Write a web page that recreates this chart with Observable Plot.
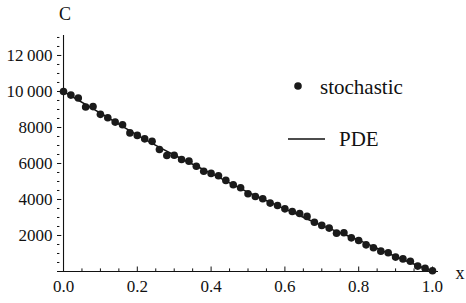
<!DOCTYPE html>
<html><head><meta charset="utf-8">
<script src="https://cdn.jsdelivr.net/npm/d3@7"></script>
<script src="https://cdn.jsdelivr.net/npm/@observablehq/plot@0.6"></script>
<style>
body{margin:0;background:#fff;}
#wrap{position:relative;width:466px;height:303px;font-family:"Liberation Serif","Times New Roman",serif;}
#wrap svg, #wrap svg text{font-family:"Liberation Serif","Times New Roman",serif !important;}
#over{position:absolute;left:0;top:0;pointer-events:none;}
</style></head><body><div id="wrap"></div>
<script>
// Stochastic samples
const xs = [0,0.02,0.04,0.06,0.08,0.10,0.12,0.14,0.16,0.18,0.20,0.22,0.24,0.26,0.28,0.30,0.32,0.34,0.36,0.38,0.40,0.42,0.44,0.46,0.48,0.50,0.52,0.54,0.56,0.58,0.60,0.62,0.64,0.66,0.68,0.70,0.72,0.74,0.76,0.78,0.80,0.82,0.84,0.86,0.88,0.90,0.92,0.94,0.96,0.98,1.00];
const stochastic = [10000,9800,9640,9140,9160,8730,8540,8300,8150,7700,7560,7370,7230,6780,6440,6460,6220,6130,5850,5570,5450,5320,5060,4815,4650,4320,4170,4040,3800,3670,3480,3330,3220,3060,2740,2560,2410,2130,2150,1870,1720,1480,1320,1130,1040,800,700,570,300,180,40];
// PDE curve
const pdeX = [0,0.1,0.2,0.3,0.4,0.5,0.6,0.7,0.8,0.9,1.0];
const pdeY = [10000,8800,7580,6470,5450,4400,3480,2560,1740,830,0];
// Ticks
const xTicks = [0,0.2,0.4,0.6,0.8,1.0];
const xTickLabels = ["0.0","0.2","0.4","0.6","0.8","1.0"];
const xMinor = [0.05,0.1,0.15,0.25,0.3,0.35,0.45,0.5,0.55,0.65,0.7,0.75,0.85,0.9,0.95];
const yTicks = [2000,4000,6000,8000,10000,12000];
const yTickLabels = ["2000","4000","6000","8000","10\u2009000","12\u2009000"];
const yMinor = [500,1000,1500,2500,3000,3500,4500,5000,5500,6500,7000,7500,8500,9000,9500,10500,11000,11500,12500,13000];
const legendLabels = ["stochastic","PDE"];
const axisLabels = {x:"x", y:"C"};

const pts = xs.map((x,i)=>({x, y: stochastic[i]}));
const pde = pdeX.map((x,i)=>({x, y: pdeY[i]}));
const xDom = [-0.0163, 1.0163];
const serif = "Liberation Serif, Times New Roman, serif";

const plot = Plot.plot({
  width:466, height:303,
  marginLeft:57, marginRight:28, marginTop:35, marginBottom:32,
  style:{fontFamily:serif, fontSize:"17px", background:"white", color:"#111"},
  x:{domain:xDom},
  y:{domain:[0,13110]},
  marks:[
    Plot.ruleY([0],{x1:xDom[0], x2:xDom[1], stroke:"#111", strokeWidth:1.1}),
    Plot.ruleX([0],{stroke:"#111", strokeWidth:1.1}),
    Plot.axisX({ticks:xTicks, tickSize:-4.5, text:null, label:null, stroke:"#111"}),
    Plot.axisX({ticks:xMinor, tickSize:-2.6, text:null, label:null, stroke:"#111"}),
    Plot.axisX({ticks:xTicks, tickSize:0, tickPadding:8, tickFormat:(d)=>xTickLabels[xTicks.indexOf(d)], label:null, fill:"#111", fontFamily:serif, fontSize:17}),
    Plot.axisY({ticks:yTicks, tickSize:-4.3, text:null, label:null, anchor:"left", stroke:"#111"}),
    Plot.axisY({ticks:yMinor, tickSize:-2.4, text:null, label:null, anchor:"left", stroke:"#111"}),
    Plot.axisY({ticks:yTicks, tickSize:0, tickPadding:5, tickFormat:d=>yTickLabels[yTicks.indexOf(d)], label:null, anchor:"left", fill:"#111", fontFamily:serif, fontSize:17}),
    Plot.line(pde,{x:"x", y:"y", stroke:"#111", strokeWidth:1.5, curve:"monotone-x"}),
    Plot.dot(pts,{x:"x", y:"y", r:3.8, fill:"#1a1a1a", stroke:"none"})
  ]
});
const wrap = document.getElementById("wrap");
wrap.appendChild(plot);

// overlay: axis labels and legend
const ns = "http://www.w3.org/2000/svg";
const svg = document.createElementNS(ns,"svg");
svg.setAttribute("id","over"); svg.setAttribute("width",466); svg.setAttribute("height",303);
svg.setAttribute("font-family",serif);
function txt(s,x,y,size,anchor){
  const t=document.createElementNS(ns,"text");
  t.setAttribute("x",x); t.setAttribute("y",y); t.setAttribute("font-size",size);
  t.setAttribute("text-anchor",anchor); t.setAttribute("dominant-baseline","central");
  t.setAttribute("fill","#111"); t.textContent=s; svg.appendChild(t);
}
txt(axisLabels.y, 65, 14, 18, "middle");
txt(axisLabels.x, 460, 273, 18, "middle");
const c=document.createElementNS(ns,"circle");
c.setAttribute("cx",298); c.setAttribute("cy",86); c.setAttribute("r",3.8); c.setAttribute("fill","#1a1a1a");
svg.appendChild(c);
txt(legendLabels[0], 320, 87, 21, "start");
const l=document.createElementNS(ns,"line");
l.setAttribute("x1",288); l.setAttribute("x2",325); l.setAttribute("y1",139); l.setAttribute("y2",139);
l.setAttribute("stroke","#111"); l.setAttribute("stroke-width",1.5);
svg.appendChild(l);
txt(legendLabels[1], 339, 139, 21, "start");
wrap.appendChild(svg);
</script></body></html>
